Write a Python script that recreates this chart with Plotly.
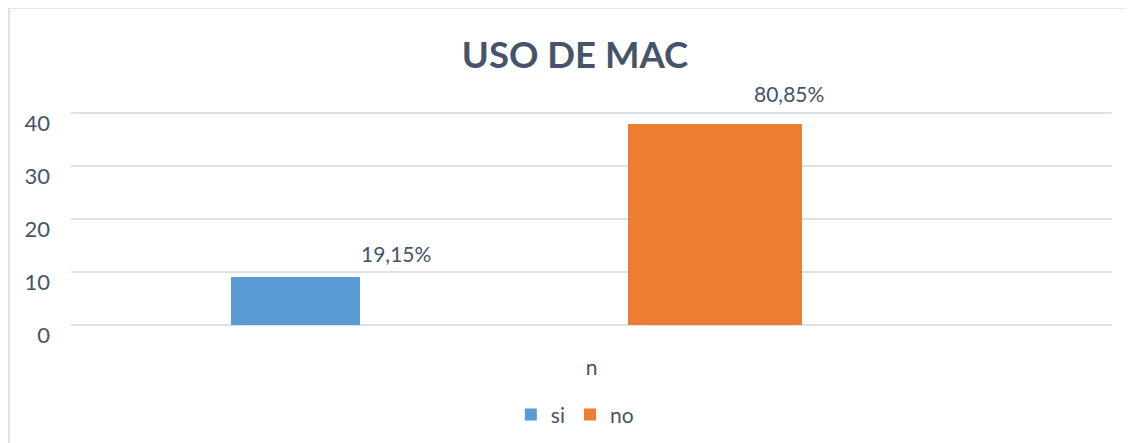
import plotly.graph_objects as go

# ---- data ----
category = ["n"]
series_names = ["si", "no"]
series_values = [9, 38]
y_ticks = [0, 10, 20, 30, 40]
title_text = "USO DE MAC"

# ---- styles ----
colors = ["#5b9bd5", "#ed7d31"]
bar_offsets = [-0.3463, 0.0351]
bar_widths = [0.1239, 0.1671]
label_xshift = [-196, 197]
label_yshift = [9, 16]
text_color = "#44546a"
grid_color = "#dde1e7"
font_family = "Lato, 'Open Sans', sans-serif"

total = sum(series_values)

fig = go.Figure()
for name, val, col, off, w in zip(series_names, series_values, colors, bar_offsets, bar_widths):
    fig.add_trace(go.Bar(
        x=category, y=[val], name=name,
        marker=dict(color=col, line=dict(width=0)),
        offset=off, width=w,
    ))

for name, val, xs, ys in zip(series_names, series_values, label_xshift, label_yshift):
    pct = f"{val / total * 100:.2f}".replace(".", ",") + "%"
    fig.add_annotation(
        x=category[0], y=val, text=pct, showarrow=False,
        xshift=xs, yshift=ys, yanchor="bottom",
        font=dict(size=21, color=text_color, family=font_family),
    )

# outer chart border (left and top edges visible)
fig.add_shape(type="rect", xref="paper", yref="paper",
              x0=-0.0595, x1=1.07, y0=-0.7, y1=1.4830,
              line=dict(color="#dde1e7", width=2), fillcolor="rgba(0,0,0,0)", layer="below")

fig.update_layout(
    width=1134, height=443,
    margin=dict(l=63, r=30, t=103, b=126),
    paper_bgcolor="white", plot_bgcolor="white",
    title=dict(text=f"<b>{title_text}</b>", x=0.5, xanchor="center",
               y=1 - 47 / 443, yanchor="middle",
               font=dict(size=36.5, color=text_color, family=font_family)),
    font=dict(family=font_family, color=text_color, size=20),
    showlegend=True,
    legend=dict(orientation="h", x=0.484, xanchor="center", y=-0.42, yanchor="middle",
                font=dict(size=21, color=text_color, family=font_family),
                itemwidth=30, bgcolor="rgba(0,0,0,0)"),
    bargap=0,
    xaxis=dict(showgrid=False, zeroline=False, showline=False, ticks="",
               ticklabelstandoff=28, tickfont=dict(size=21, color=text_color)),
    yaxis=dict(range=[0, 40.4], tickvals=y_ticks, ticktext=[str(t) for t in y_ticks],
               showgrid=True, gridcolor=grid_color, gridwidth=1.5,
               zeroline=True, zerolinecolor=grid_color, zerolinewidth=1.5,
               showline=False, ticks="", ticklabelstandoff=20, ticklabelshift=10,
               tickfont=dict(size=22, color=text_color)),
)

fig.write_html("out.html")
